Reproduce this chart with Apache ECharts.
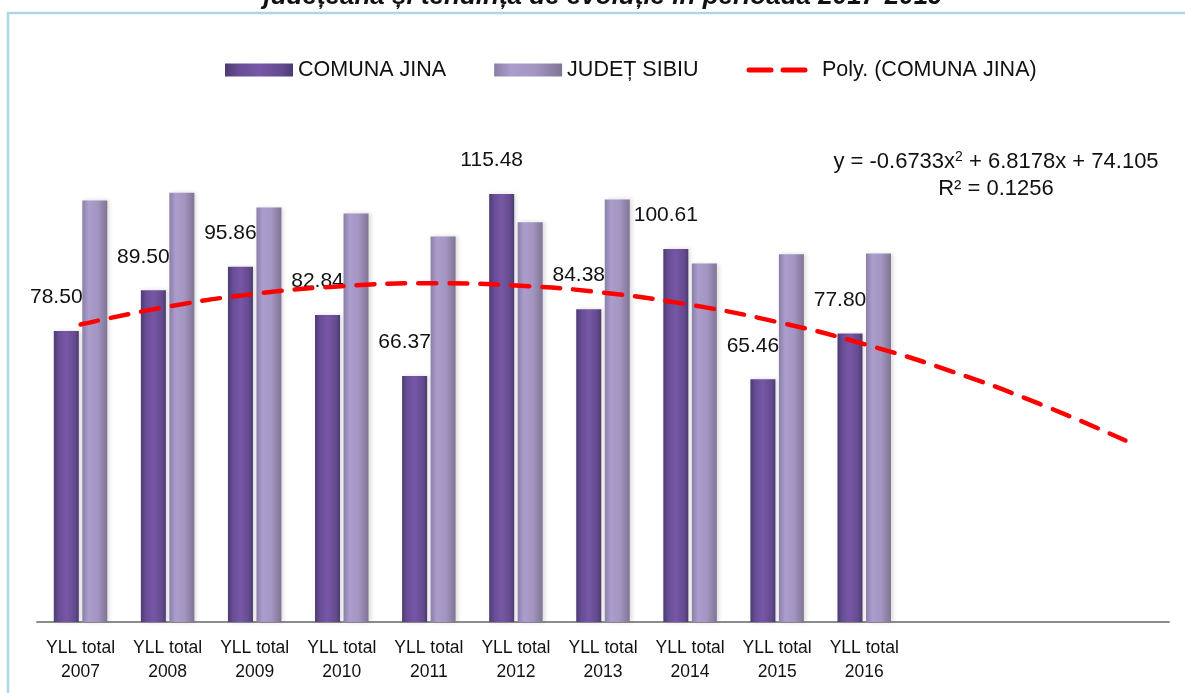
<!DOCTYPE html>
<html>
<head>
<meta charset="utf-8">
<title>YLL total Comuna Jina</title>
<script src="https://cdn.jsdelivr.net/npm/echarts@6/dist/echarts.min.js"></script>
<style>
  html, body { margin: 0; padding: 0; background: #ffffff; }
  #chart { width: 1185px; height: 693px; }
</style>
</head>
<body>
<div id="chart"></div>
<script>
// categories (the last three slots hold the trend forecast only)
const categories = [
  'YLL total\n2007', 'YLL total\n2008', 'YLL total\n2009', 'YLL total\n2010', 'YLL total\n2011',
  'YLL total\n2012', 'YLL total\n2013', 'YLL total\n2014', 'YLL total\n2015', 'YLL total\n2016',
  '', '', ''
];
const comunaJina = [78.50, 89.50, 95.86, 82.84, 66.37, 115.48, 84.38, 100.61, 65.46, 77.80];
const judetSibiu = [113.7, 115.8, 111.8, 110.2, 104.0, 107.8, 114.0, 96.7, 99.2, 99.4];
// polynomial trend
const polyTrend = [80.25, 85.05, 88.50, 90.60, 91.36, 90.77, 88.84, 85.56, 80.93, 74.95, 67.63, 58.96, 48.95];

const seriesNames = ['COMUNA JINA', 'JUDEȚ SIBIU', 'Poly. (COMUNA JINA)'];
const titleText = 'județeana și tendința de evoluție în perioada 2017-2019';

const FONT = '"Liberation Sans", Arial, sans-serif';

const chart = echarts.init(document.getElementById('chart'));

const comunaColor = new echarts.graphic.LinearGradient(0, 0, 1, 0, [
  { offset: 0, color: '#4c3b72' },
  { offset: 0.2, color: '#684d96' },
  { offset: 0.5, color: '#7757a6' },
  { offset: 0.85, color: '#634a8e' },
  { offset: 1, color: '#4a3a6c' }
]);
const judetColor = new echarts.graphic.LinearGradient(0, 0, 1, 0, [
  { offset: 0, color: '#8b7fa8' },
  { offset: 0.25, color: '#ab9dcc' },
  { offset: 0.6, color: '#a496c2' },
  { offset: 1, color: '#807494' }
]);

const option = {
  backgroundColor: '#ffffff',
  animation: false,
  textStyle: { fontFamily: FONT },
  graphic: [
    {
      type: 'rect',
      shape: { x: 8, y: 13, width: 1200, height: 700 },
      style: { fill: 'none', stroke: '#acd8e4', lineWidth: 2.5 },
      silent: true
    },
    {
      type: 'text',
      x: 603, y: 10,
      style: {
        text: titleText,
        fill: '#111',
        font: 'italic bold 26px ' + FONT,
        textAlign: 'center',
        textVerticalAlign: 'bottom'
      }
    },
    {
      type: 'text',
      x: 996, y: 162,
      style: {
        text: '{a|y = -0.6733x}{s|2}{a| + 6.8178x + 74.105}',
        rich: {
          a: { fontSize: 22, fontFamily: FONT, fill: '#111' },
          s: { fontSize: 14, fontFamily: FONT, fill: '#111', verticalAlign: 'top', padding: [0, 0, 9, 0] }
        },
        textAlign: 'center',
        textVerticalAlign: 'middle'
      }
    },
    {
      type: 'text',
      x: 996, y: 189,
      style: {
        text: 'R² = 0.1256',
        font: '22px ' + FONT,
        fill: '#111',
        textAlign: 'center',
        textVerticalAlign: 'middle'
      }
    }
  ],
  legend: {
    left: 220,
    top: 54,
    itemWidth: 68,
    itemHeight: 13,
    itemGap: 48,
    textStyle: { fontSize: 21.5, color: '#111', fontFamily: FONT },
    data: [
      { name: seriesNames[0], icon: 'rect' },
      { name: seriesNames[1], icon: 'rect' },
      {
        name: seriesNames[2],
        itemStyle: { color: 'transparent', borderWidth: 0 },
        lineStyle: { color: '#ff0000', type: [22, 12], width: 5, cap: 'round' }
      }
    ]
  },
  grid: { left: 37, right: 16, top: 103, bottom: 71 },
  xAxis: {
    type: 'category',
    data: categories,
    boundaryGap: true,
    axisTick: { show: false },
    axisLine: { lineStyle: { color: '#8c8c8c', width: 2 } },
    axisLabel: {
      interval: 0,
      margin: 14,
      fontSize: 17.5,
      lineHeight: 24,
      color: '#111',
      fontFamily: FONT
    }
  },
  yAxis: {
    type: 'value',
    min: 0,
    max: 140,
    show: false,
    splitLine: { show: false }
  },
  series: [
    {
      name: seriesNames[0],
      type: 'bar',
      data: comunaJina,
      barWidth: 25,
      barGap: '14%',
      itemStyle: {
        color: comunaColor,
        shadowColor: 'rgba(0,0,0,0.14)',
        shadowBlur: 4,
        shadowOffsetX: 2
      },
      label: {
        show: true,
        position: 'top',
        offset: [-10, -18],
        fontSize: 21,
        color: '#111',
        fontFamily: FONT,
        formatter: (p) => p.value.toFixed(2)
      }
    },
    {
      name: seriesNames[1],
      type: 'bar',
      data: judetSibiu,
      barWidth: 25,
      itemStyle: {
        color: judetColor,
        shadowColor: 'rgba(0,0,0,0.14)',
        shadowBlur: 4,
        shadowOffsetX: 2
      }
    },
    {
      name: seriesNames[2],
      type: 'line',
      data: polyTrend,
      smooth: true,
      symbol: 'none',
      z: 5,
      lineStyle: { color: '#ff0000', width: 4.5, type: [18, 13], cap: 'round' },
      itemStyle: { color: '#ff0000' }
    }
  ]
};

chart.setOption(option);
</script>
</body>
</html>
